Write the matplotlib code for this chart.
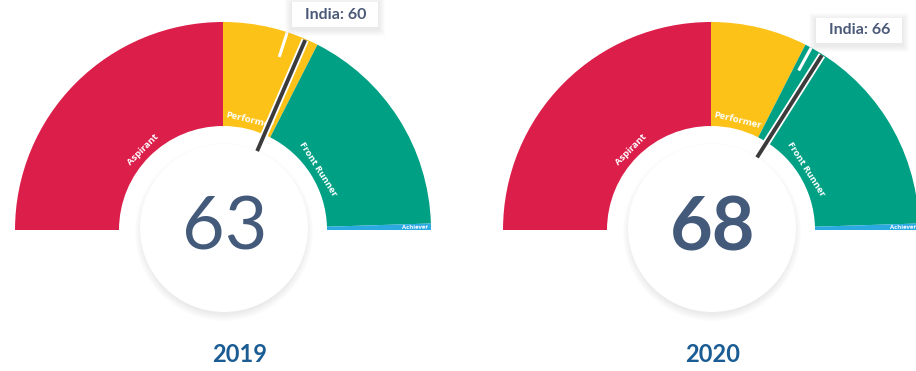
import matplotlib
matplotlib.use("Agg")
import matplotlib.pyplot as plt
import matplotlib.patheffects as pe
from matplotlib.patches import Wedge, Circle, Rectangle
import numpy as np

# gauge data
YEARS = ["2019", "2020"]
SCORES = [63, 68]
INDIA = [60, 66]
BANDS = ["Aspirant", "Performer", "Front Runner", "Achiever"]
EDGES = [0, 50, 65, 99, 100]

BAND_COLORS = ["#dc1e4a", "#fdc217", "#00a084", "#2ba9e1"]
NUM_COLOR = "#435a7b"
YEAR_COLOR = "#1a5c93"
NUM_WEIGHTS = ["normal", "bold"]

W, H = 916, 371
R_OUT, R_IN = 208, 104
CENTERS = [223, 711]
YEAR_X = [240, 713]
CY = 141


def ang(v):
    return 180 - 1.8 * v


def polar(cx, r, v):
    a = np.radians(ang(v))
    return cx + r * np.cos(a), CY + r * np.sin(a)


fig = plt.figure(figsize=(W / 100, H / 100), dpi=100)
ax = fig.add_axes([0, 0, 1, 1])
ax.set_xlim(0, W)
ax.set_ylim(0, H)
ax.set_aspect("equal")
ax.axis("off")

for i, year in enumerate(YEARS):
    cx = CENTERS[i]

    # coloured bands + their labels
    for name, lo, hi, col in zip(BANDS, EDGES[:-1], EDGES[1:], BAND_COLORS):
        ax.add_patch(Wedge((cx, CY), R_OUT, ang(hi), ang(lo),
                           width=R_OUT - R_IN, fc=col, ec="none", zorder=1))
        mid = (lo + hi) / 2
        if name == "Achiever":
            x, y = polar(cx, R_OUT - 16, mid)
            ax.text(x, y, name, rotation=ang(mid), fontsize=4.3, color="white",
                    family="Open Sans", weight="bold", ha="center", va="center",
                    rotation_mode="anchor", zorder=3)
        else:
            x, y = polar(cx, R_IN + 9, mid)
            ax.text(x, y, name, rotation=ang(mid) - 90, fontsize=6.8, color="white",
                    family="Open Sans", weight="bold", ha="center", va="center",
                    rotation_mode="anchor", zorder=3)

    # white disc with soft shadow holding the score
    ncx, ncy = cx + 1, CY + 2
    for k in range(10):
        ax.add_patch(Circle((ncx, ncy - 4), 82 + k * 0.8, fc="black",
                            ec="none", alpha=0.007, zorder=4))
    ax.add_patch(Circle((ncx, ncy), 84, fc="white", ec="none", zorder=5))
    ax.text(cx + 2, CY + 1, str(SCORES[i]), fontsize=53, family="Lato",
            weight=NUM_WEIGHTS[i], color=NUM_COLOR, ha="center", va="center",
            zorder=6)

    # India marker
    x0, y0 = polar(cx, 182, INDIA[i])
    x1, y1 = polar(cx, R_OUT, INDIA[i])
    ax.plot([x0, x1], [y0, y1], color="white", lw=2.2, solid_capstyle="butt",
            zorder=7)
    tip_x, tip_y = x1, y1

    # needle for the score
    x0, y0 = polar(cx, 86, SCORES[i])
    x1, y1 = polar(cx, 207, SCORES[i])
    ax.plot([x0, x1], [y0, y1], color="#3b3b3b", lw=2.8, solid_capstyle="butt",
            zorder=8,
            path_effects=[pe.Stroke(linewidth=5.4, foreground="white"),
                          pe.Normal()])

    # India call-out box with a soft, diffuse shadow
    bx, by = tip_x + 5, tip_y + 5
    for k in range(1, 8):
        ax.add_patch(Rectangle((bx - k, by - 2 - k), 86 + 2 * k, 25 + 2 * k,
                               fc="black", ec="none", alpha=0.012, zorder=9))
    ax.add_patch(Rectangle((bx, by), 86, 25, fc="white", ec="none", zorder=9))
    ax.text(bx + 43, by + 12.5, f"India: {INDIA[i]}", fontsize=11.5, family="Lato",
            weight="bold", color="#4a5a78", ha="center", va="center", zorder=10)

    ax.text(YEAR_X[i], 16, year, fontsize=17, family="Lato", weight="bold",
            color=YEAR_COLOR, ha="center", va="center")

fig.savefig("out.png", dpi=100, facecolor="white")
